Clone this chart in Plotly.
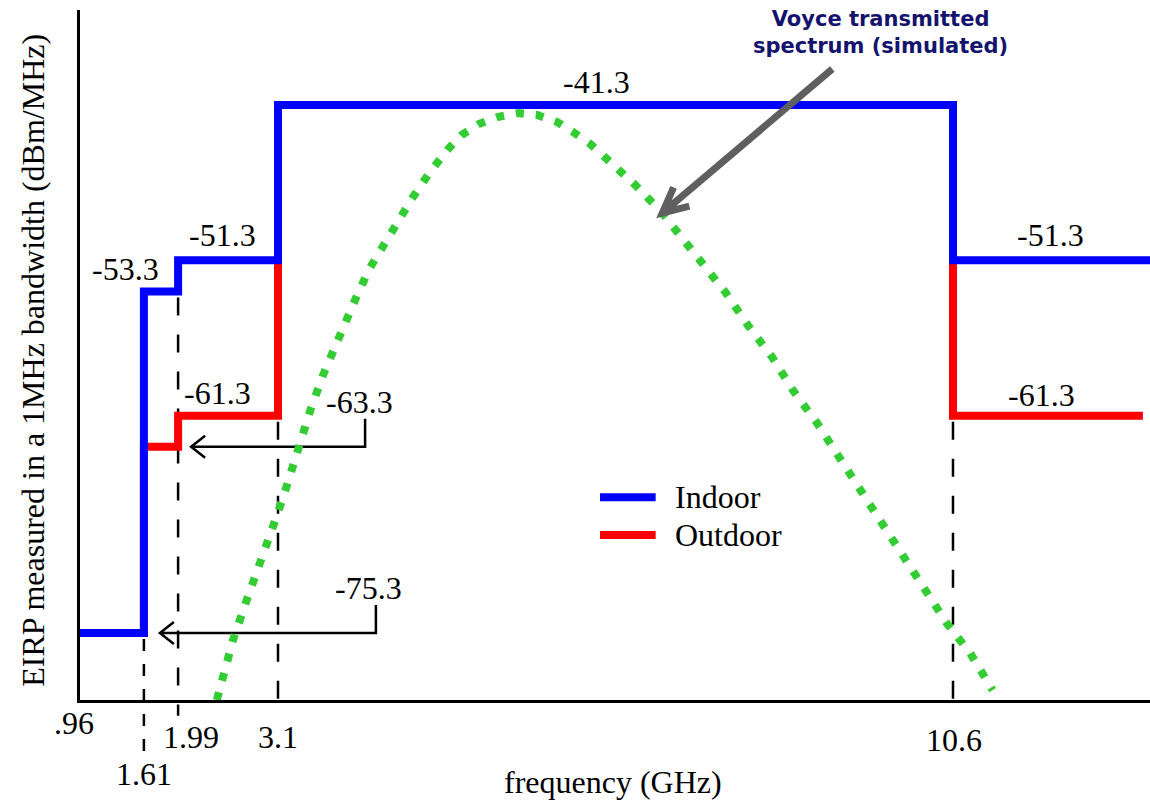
import math
import plotly.graph_objects as go

# ---------------- data ----------------
# Spectral mask band edges (GHz); first edge is the start of the plotted axis
BAND_EDGES = [0.9, 1.61, 1.99, 3.1, 10.6]
INDOOR_END = 12.79
OUTDOOR_END = 12.71
INDOOR_LIMITS = [-75.3, -53.3, -51.3, -41.3, -51.3]   # dBm/MHz
OUTDOOR_LIMITS = [-75.3, -63.3, -61.3, -41.3, -61.3]  # dBm/MHz

# Simulated transmitted spectrum
SPEC_FREQ = [2.42, 2.60, 2.76, 2.90, 3.07, 3.19, 3.31, 3.46, 3.60, 3.76, 3.98, 4.12,
             4.38, 4.60, 4.79, 4.98, 5.14, 5.33, 5.54, 5.77, 5.98, 6.20, 6.38, 6.57,
             6.73, 6.90, 7.07, 7.21, 7.37, 7.51, 7.79, 8.07, 8.32, 8.59, 8.82, 9.09,
             9.32, 9.57, 9.82, 10.07, 10.29, 10.53, 10.79, 11.04]
SPEC_DB = [-79.61, -75.75, -73.05, -70.60, -68.02, -65.96, -63.52, -60.94, -58.69,
           -56.43, -53.53, -51.80, -49.22, -47.22, -45.61, -44.20, -43.23, -42.52,
           -42.07, -41.82, -41.94, -42.39, -43.04, -43.81, -44.65, -45.49, -46.45,
           -47.29, -48.25, -49.28, -51.28, -53.34, -55.47, -57.53, -59.65, -61.78,
           -63.84, -66.09, -68.22, -70.41, -72.53, -74.66, -76.59, -78.97]

TICK_LABELS = [".96", "1.61", "1.99", "3.1", "10.6"]
TICK_POS = [0.9, 1.61, 1.99, 3.1, 10.6]

# ---------------- layout constants ----------------
X_RANGE = [0.9, 12.789]
Y_RANGE = [-79.61, -35.18]
ML, MR, MT, MB = 80, 0, 10, 100
W, H = 1150, 800
PLOT_H = H - MT - MB
SERIF = "Liberation Serif, Times New Roman, serif"
LBL = 32


def paper_y(db):
    return (db - Y_RANGE[0]) / (Y_RANGE[1] - Y_RANGE[0])


def step(edges, limits, end):
    return list(edges) + [end], list(limits) + [limits[-1]]


fig = go.Figure()

ox, oy = step(BAND_EDGES, OUTDOOR_LIMITS, OUTDOOR_END)
fig.add_trace(go.Scatter(x=ox, y=oy, mode="lines", line_shape="hv", name="Outdoor",
                         line=dict(color="#ff0000", width=8), showlegend=False))
ix, iy = step(BAND_EDGES, INDOOR_LIMITS, INDOOR_END)
fig.add_trace(go.Scatter(x=ix, y=iy, mode="lines", line_shape="hv", name="Indoor",
                         line=dict(color="#0000ff", width=8), showlegend=False))
fig.add_trace(go.Scatter(x=SPEC_FREQ, y=SPEC_DB, mode="lines",
                         name="Voyce transmitted spectrum (simulated)",
                         line=dict(color="#33cc33", width=8, dash="8px,12px"),
                         showlegend=False))

shapes = []
# dashed vertical guide lines at band edges
guides = [
    (BAND_EDGES[1], INDOOR_LIMITS[0], -0.084, "12px,13px"),
    (BAND_EDGES[2], INDOOR_LIMITS[1], -0.023, "18px,19px"),
    (BAND_EDGES[3], OUTDOOR_LIMITS[2], -0.023, "18px,19px"),
    (BAND_EDGES[4], OUTDOOR_LIMITS[4], -0.023, "18px,19px"),
]
for gx, top_db, bottom, dash in guides:
    shapes.append(dict(type="line", xref="x", yref="paper", x0=gx, x1=gx,
                       y0=paper_y(top_db) - 6 / PLOT_H, y1=bottom,
                       line=dict(color="black", width=2.5, dash=dash), layer="below"))

# bracket arrows pointing at the lowest outdoor levels
brackets = [(BAND_EDGES[2], OUTDOOR_LIMITS[1], 13, 187), (BAND_EDGES[1], OUTDOOR_LIMITS[0], 16, 232)]
for ax_, lvl, tip, corner in brackets:
    path = (f"M {tip + 14},11 L {tip},0 L {tip + 14},-11 "
            f"M {tip},0 L {corner},0 L {corner},28")
    shapes.append(dict(type="path", xref="x", yref="y", xsizemode="pixel", ysizemode="pixel",
                       xanchor=ax_, yanchor=lvl, path=path,
                       line=dict(color="black", width=2.5), layer="below"))

# gray pointer arrow to the spectrum curve
tip_f, tip_db = SPEC_FREQ[28], SPEC_DB[28]
tx, ty = 170, 144
ang = math.atan2(ty, tx)
arms = []
for da in (math.radians(26), -math.radians(26)):
    arms.append((28 * math.cos(ang + da), 28 * math.sin(ang + da)))
gpath = (f"M {tx},{ty} L 0,0 M {arms[0][0]:.1f},{arms[0][1]:.1f} L 0,0 "
         f"L {arms[1][0]:.1f},{arms[1][1]:.1f}")
shapes.append(dict(type="path", xref="x", yref="y", xsizemode="pixel", ysizemode="pixel",
                   xanchor=tip_f, yanchor=tip_db, path=gpath,
                   line=dict(color="#5f5f5f", width=7), layer="above"))

# manual legend
leg = [("Indoor", "#0000ff", 0.294), ("Outdoor", "#ff0000", 0.239)]
for name, col, ly in leg:
    shapes.append(dict(type="line", xref="paper", yref="paper", x0=0.486, x1=0.538,
                       y0=ly, y1=ly, line=dict(color=col, width=8)))

annotations = []
for name, col, ly in leg:
    annotations.append(dict(text=name, xref="paper", yref="paper", x=0.554, y=ly,
                            xanchor="left", yanchor="middle", showarrow=False,
                            font=dict(family=SERIF, size=LBL, color="black")))

# level labels: (text value, x freq, y level, pixel shift above the level)
level_labels = [
    (INDOOR_LIMITS[3], 6.644, INDOOR_LIMITS[3], 23),
    (INDOOR_LIMITS[2], 2.478, INDOOR_LIMITS[2], 25),
    (INDOOR_LIMITS[1], 1.411, INDOOR_LIMITS[1], 22),
    (OUTDOOR_LIMITS[2], 2.433, OUTDOOR_LIMITS[2], 23),
    (OUTDOOR_LIMITS[1], 4.011, OUTDOOR_LIMITS[1], 45),
    (OUTDOOR_LIMITS[0], 4.111, OUTDOOR_LIMITS[0], 45),
    (INDOOR_LIMITS[4], 11.678, INDOOR_LIMITS[4], 25),
    (OUTDOOR_LIMITS[4], 11.578, OUTDOOR_LIMITS[4], 21),
]
for val, lx, ly, sh in level_labels:
    annotations.append(dict(text=f"{val:.1f}", x=lx, y=ly, xref="x", yref="y",
                            yshift=sh, showarrow=False, xanchor="center", yanchor="middle",
                            font=dict(family=SERIF, size=LBL, color="black")))

# x tick labels (staggered)
tick_pix = [(-6, -0.0333), (0, -0.107), (13, -0.0536), (0, -0.0536), (1, -0.058)]
for lab, pos, (xs, py) in zip(TICK_LABELS, TICK_POS, tick_pix):
    annotations.append(dict(text=lab, x=pos, y=py, xref="x", yref="paper", xshift=xs,
                            showarrow=False, xanchor="center", yanchor="middle",
                            font=dict(family=SERIF, size=LBL, color="black")))

# axis titles
annotations.append(dict(text="frequency (GHz)", x=0.498, y=-0.119, xref="paper", yref="paper",
                        showarrow=False, xanchor="center", yanchor="middle",
                        font=dict(family=SERIF, size=LBL, color="black")))
annotations.append(dict(text="EIRP measured in a 1MHz bandwidth (dBm/MHz)", x=-0.044, y=0.493,
                        xref="paper", yref="paper", textangle=-90, showarrow=False,
                        xanchor="center", yanchor="middle",
                        font=dict(family=SERIF, size=LBL, color="black")))
# callout text
annotations.append(dict(text="Voyce transmitted<br>spectrum (simulated)", x=0.748, y=0.968,
                        xref="paper", yref="paper", showarrow=False,
                        xanchor="center", yanchor="middle",
                        font=dict(family="DejaVu Sans, Verdana, sans-serif", size=21,
                                  color="#14146e", weight="bold")))

fig.update_layout(
    width=W, height=H,
    margin=dict(l=ML, r=MR, t=MT, b=MB),
    paper_bgcolor="white", plot_bgcolor="white",
    showlegend=False,
    xaxis=dict(range=X_RANGE, showgrid=False, zeroline=False, showticklabels=False,
               ticks="", showline=True, linecolor="black", linewidth=3),
    yaxis=dict(range=Y_RANGE, showgrid=False, zeroline=False, showticklabels=False,
               ticks="", showline=True, linecolor="black", linewidth=3),
    shapes=shapes,
    annotations=annotations,
)

fig.write_html("out.html", config={"displayModeBar": False},
               post_script="document.body.style.margin='0';document.body.style.overflow='hidden';")
